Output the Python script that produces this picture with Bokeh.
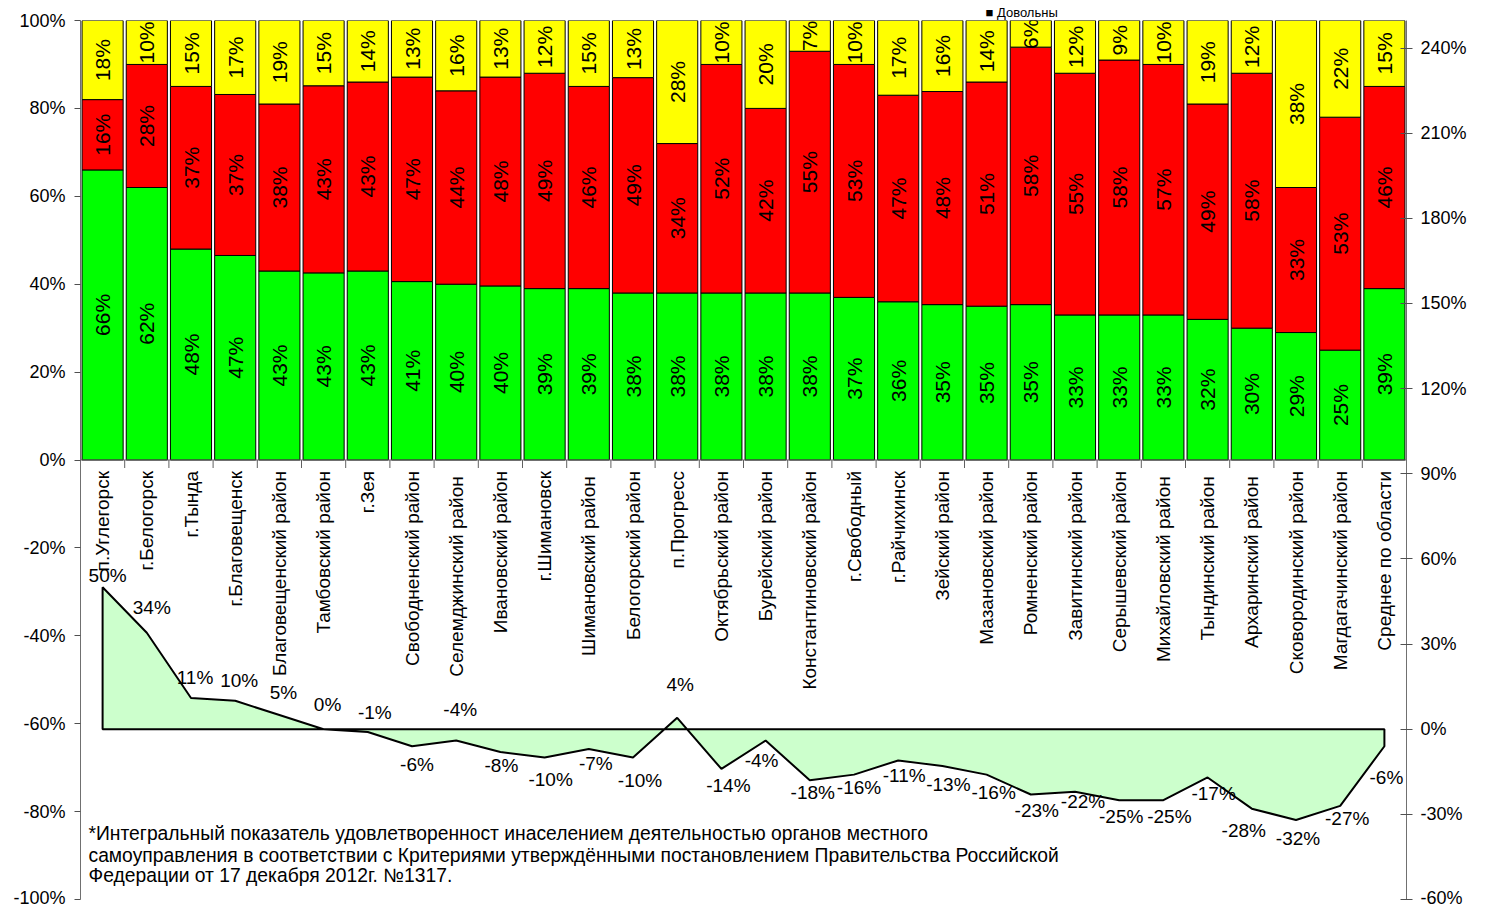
import math
from bokeh.plotting import figure
from bokeh.models import Range1d, LinearAxis, FixedTicker, Title
from bokeh.embed import file_html
from bokeh.resources import INLINE
from bokeh.core.properties import value

# ---------------- data ----------------
categories = ["п.Углегорск", "г.Белогорск", "г.Тында", "г.Благовещенск",
              "Благовещенский район", "Тамбовский район", "г.Зея",
              "Свободненский район", "Селемджинский  район", "Ивановский район",
              "г.Шимановск", "Шимановский  район", "Белогорский район",
              "п.Прогресс", "Октябрьский район", "Бурейский район",
              "Константиновский район", "г.Свободный", "г.Райчихинск",
              "Зейский район", "Мазановский район", "Ромненский район",
              "Завитинский район", "Серышевский район", "Михайловский  район",
              "Тындинский  район", "Архаринский  район", "Сковородинский район",
              "Магдагачинский район", "Среднее по области"]
satisfied = [66, 62, 48, 47, 43, 43, 43, 41, 40, 40, 39, 39, 38, 38, 38,
             38, 38, 37, 36, 35, 35, 35, 33, 33, 33, 32, 30, 29, 25, 39]
dissatisfied = [16, 28, 37, 37, 38, 43, 43, 47, 44, 48, 49, 46, 49, 34, 52,
                42, 55, 53, 47, 48, 51, 58, 55, 58, 57, 49, 58, 33, 53, 46]
undecided = [18, 10, 15, 17, 19, 15, 14, 13, 16, 13, 12, 15, 13, 28, 10,
             20, 7, 10, 17, 16, 14, 6, 12, 9, 10, 19, 12, 38, 22, 15]
index_vals = [50, 34, 11, 10, 5, 0, -1, -6, -4, -8, -10, -7, -10, 4, -14,
              -4, -18, -16, -11, -13, -16, -23, -22, -25, -25, -17, -28, -32, -27, -6]
left_ticks = [-100, -80, -60, -40, -20, 0, 20, 40, 60, 80, 100]
right_ticks = [-60, -30, 0, 30, 60, 90, 120, 150, 180, 210, 240]
legend_label = "Довольны"
footnote = ["*Интегральный показатель удовлетворенност инаселением деятельностью органов местного",
            "самоуправления  в соответствии с Критериями  утверждёнными постановлением Правительства Российской",
            "Федерации от 17 декабря 2012г. №1317."]

# label offsets for the index labels (screen pixels: dx right, dy up)
label_dx = [5, 5, 4, 4, 4, 4, 7, 5, 4, 1, 6, 7, 7, 3, 7, -4, 3, 5, 6, 6,
            7, 6, 8, 2, 6, 6, -8, 2, 7, 2]
label_dy = [12, 25, 20, 20, 23, 25, 20, -18, 31, -14, -22, -14, -23, 33, -17,
            -20, -12, -13, -15, -18, -18, -16, -10, -16, -16, -16, -22, -18, -13, -31]

# ---------------- layout constants ----------------
W, H = 1471, 907
B_LEFT, B_RIGHT, B_TOP, B_BOTTOM = 80, 65, 20, 8
FRAME_W = W - B_LEFT - B_RIGHT
FRAME_H = H - B_TOP - B_BOTTOM
L_LO, L_HI = -100, 100
R_LO, R_HI = -60, 249.7
FONT = value("Liberation Sans")

n = len(categories)
xs = [i + 0.5 for i in range(n)]
px_x = n / FRAME_W
px_l = (L_HI - L_LO) / FRAME_H
px_r = (R_HI - R_LO) / FRAME_H

p = figure(width=W, height=H, x_range=Range1d(0, n), y_range=Range1d(L_LO, L_HI),
           output_backend="svg", toolbar_location=None, x_axis_location=None,
           min_border_left=B_LEFT, min_border_right=B_RIGHT,
           min_border_top=B_TOP, min_border_bottom=B_BOTTOM)
p.outline_line_color = None
p.grid.visible = False
p.background_fill_color = "white"
p.border_fill_color = "white"

# legend entry shown as a small title in the top border
p.add_layout(Title(text="■ " + legend_label, align="left", offset=905,
                   text_font="Liberation Sans", text_font_size="13px",
                   text_font_style="normal", text_color="black", standoff=1), "above")

# left axis
ya = p.yaxis[0]
ya.ticker = FixedTicker(ticks=left_ticks)
ya.major_label_overrides = {t: f"{t}%" for t in left_ticks}
ya.major_label_text_font = "Liberation Sans"
ya.major_label_text_font_size = "18px"
ya.major_label_text_color = "black"
ya.axis_line_color = "#707070"
ya.major_tick_line_color = "#505050"
ya.major_tick_out = 6
ya.major_tick_in = 0
ya.minor_tick_line_color = None
ya.major_label_standoff = 9

# right axis
p.extra_y_ranges = {"right": Range1d(R_LO, R_HI)}
ra = LinearAxis(y_range_name="right", ticker=FixedTicker(ticks=right_ticks))
ra.major_label_overrides = {t: f"{t}%" for t in right_ticks}
ra.major_label_text_font = "Liberation Sans"
ra.major_label_text_font_size = "18px"
ra.major_label_text_color = "black"
ra.axis_line_color = "#707070"
ra.major_tick_line_color = "#505050"
ra.major_tick_out = 6
ra.major_tick_in = 6
ra.minor_tick_line_color = None
ra.major_label_standoff = 8
p.add_layout(ra, "right")

# ---------------- stacked 100% bars ----------------
g_n, r_n, y_n = [], [], []
for g, r, y in zip(satisfied, dissatisfied, undecided):
    t = g + r + y
    g_n.append(g / t * 100)
    r_n.append(r / t * 100)
    y_n.append(y / t * 100)
g_top = g_n
r_top = [a + b for a, b in zip(g_n, r_n)]
y_top = [a + b for a, b in zip(r_top, y_n)]
zeros = [0] * n

bw = 0.93
p.vbar(x=xs, bottom=zeros, top=g_top, width=bw, fill_color="#00FF00", line_color="black", line_width=1)
p.vbar(x=xs, bottom=g_top, top=r_top, width=bw, fill_color="#FF0000", line_color="black", line_width=1)
p.vbar(x=xs, bottom=r_top, top=y_top, width=bw, fill_color="#FFFF00", line_color="black", line_width=1)

# bar value labels
lab_x = xs * 3
lab_y = ([(0 + a) / 2 for a in g_top] + [(a + b) / 2 for a, b in zip(g_top, r_top)]
         + [(a + b) / 2 for a, b in zip(r_top, y_top)])
lab_t = [f"{v}%" for v in satisfied] + [f"{v}%" for v in dissatisfied] + [f"{v}%" for v in undecided]
p.text(x=lab_x, y=lab_y, text=lab_t, angle=math.pi / 2, text_align="center",
       text_baseline="middle", text_font=FONT, text_font_size="21px", text_color="black")

# category axis at 0 (drawn manually)
p.segment(x0=[0], y0=[0], x1=[n], y1=[0], line_color="#606060", line_width=1)
p.segment(x0=list(range(n + 1)), y0=[0] * (n + 1), x1=list(range(n + 1)),
          y1=[-8 * px_l] * (n + 1), line_color="#606060", line_width=1)
p.text(x=xs, y=[-11 * px_l] * n, text=categories, angle=math.pi / 2, text_align="right",
       text_baseline="middle", text_font=FONT, text_font_size="19px", text_color="black")

# ---------------- index area (right axis) ----------------
ax = [xs[0]] + xs + [xs[-1]]
ay = [0] + index_vals + [0]
p.patch(x=ax, y=ay, fill_color="#CCFFCC", line_color="black", line_width=2,
        y_range_name="right")

il_x = [x + dx * px_x for x, dx in zip(xs, label_dx)]
il_y = [v + dy * px_r for v, dy in zip(index_vals, label_dy)]
p.text(x=il_x, y=il_y, text=[f"{v}%" for v in index_vals], text_align="center",
       text_baseline="middle", text_font=FONT, text_font_size="19px", text_color="black",
       y_range_name="right")

# footnote (reference pixel rows mapped proportionally into the frame)
fn_x = [8 * px_x] * len(footnote)
fn_y = [L_HI - (yy - 20) / 893 * (L_HI - L_LO) for yy in (846, 868, 889)]
p.text(x=fn_x, y=fn_y, text=footnote, text_align="left", text_baseline="middle",
       text_font=FONT, text_font_size="19.3px", text_color="black")

open("out.html", "w").write(file_html(p, INLINE))
